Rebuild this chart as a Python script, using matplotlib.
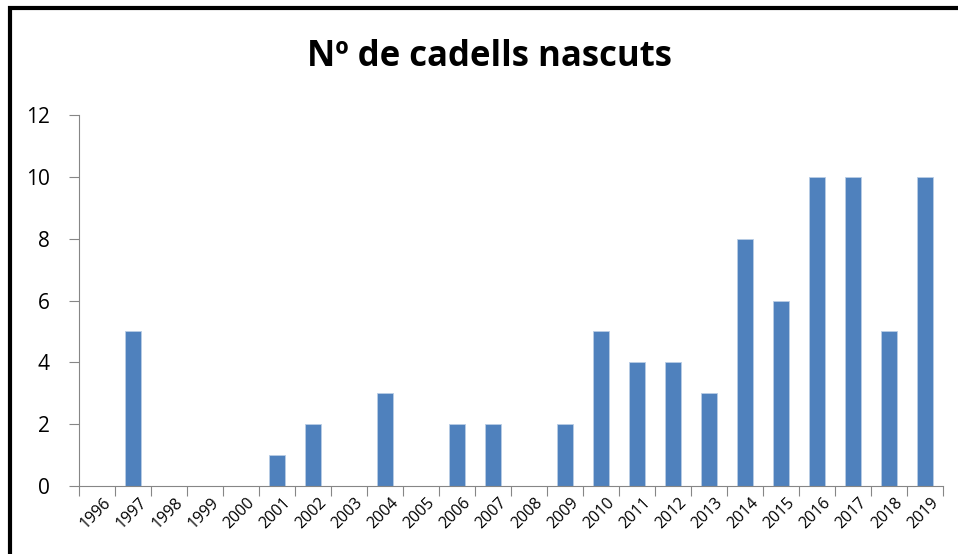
import matplotlib.pyplot as plt
from matplotlib.patches import Rectangle
from matplotlib.transforms import blended_transform_factory, offset_copy
import numpy as np

plt.rcParams['font.family'] = ['Open Sans', 'DejaVu Sans']

years = [str(y) for y in range(1996, 2020)]
cadells = [0, 5, 0, 0, 0, 1, 2, 0, 3, 0, 2, 2, 0, 2, 5, 4, 4, 3, 8, 6, 10, 10, 5, 10]

bar_color = '#4F81BD'
axis_color = '#868686'

fig = plt.figure(figsize=(9.58, 5.54), dpi=100)
ax = fig.add_axes([0.0825, 0.1227, 0.9015, 0.6697])

x = np.arange(len(years))
ax.bar(x, cadells, width=0.44, color=bar_color, edgecolor='#B9CDE5', linewidth=0.6)

ax.set_xlim(-0.5, len(years) - 0.5)
ax.set_ylim(0, 12)
ax.set_yticks(range(0, 13, 2))
ax.tick_params(axis='y', labelsize=15, length=7, color=axis_color, pad=14)

# ticks between the categories, labels at the centres
ax.set_xticks(np.arange(-0.5, len(years), 1.0))
ax.set_xticklabels([])
ax.tick_params(axis='x', length=7, color=axis_color)

trans = blended_transform_factory(ax.transData, ax.transAxes)
trans = offset_copy(trans, fig=fig, x=6, y=-9, units='dots')
for xi, lab in zip(x, years):
    ax.text(xi, 0, lab, transform=trans, rotation=45, fontsize=11.5,
            ha='right', va='top', rotation_mode='anchor')

for s in ['top', 'right']:
    ax.spines[s].set_visible(False)
for s in ['left', 'bottom']:
    ax.spines[s].set_color(axis_color)

fig.text(0.511, 0.897, 'Nº de cadells nascuts', ha='center', va='center',
         fontsize=25, fontweight='bold')

# chart frame, cut by the picture edges on the right and bottom
fig.patches.append(Rectangle((10 / 958, -0.1), 1.1, 1 - 8 / 554 + 0.1,
                             transform=fig.transFigure, fill=False,
                             edgecolor='black', linewidth=3))

fig.savefig('out.png', dpi=100)
